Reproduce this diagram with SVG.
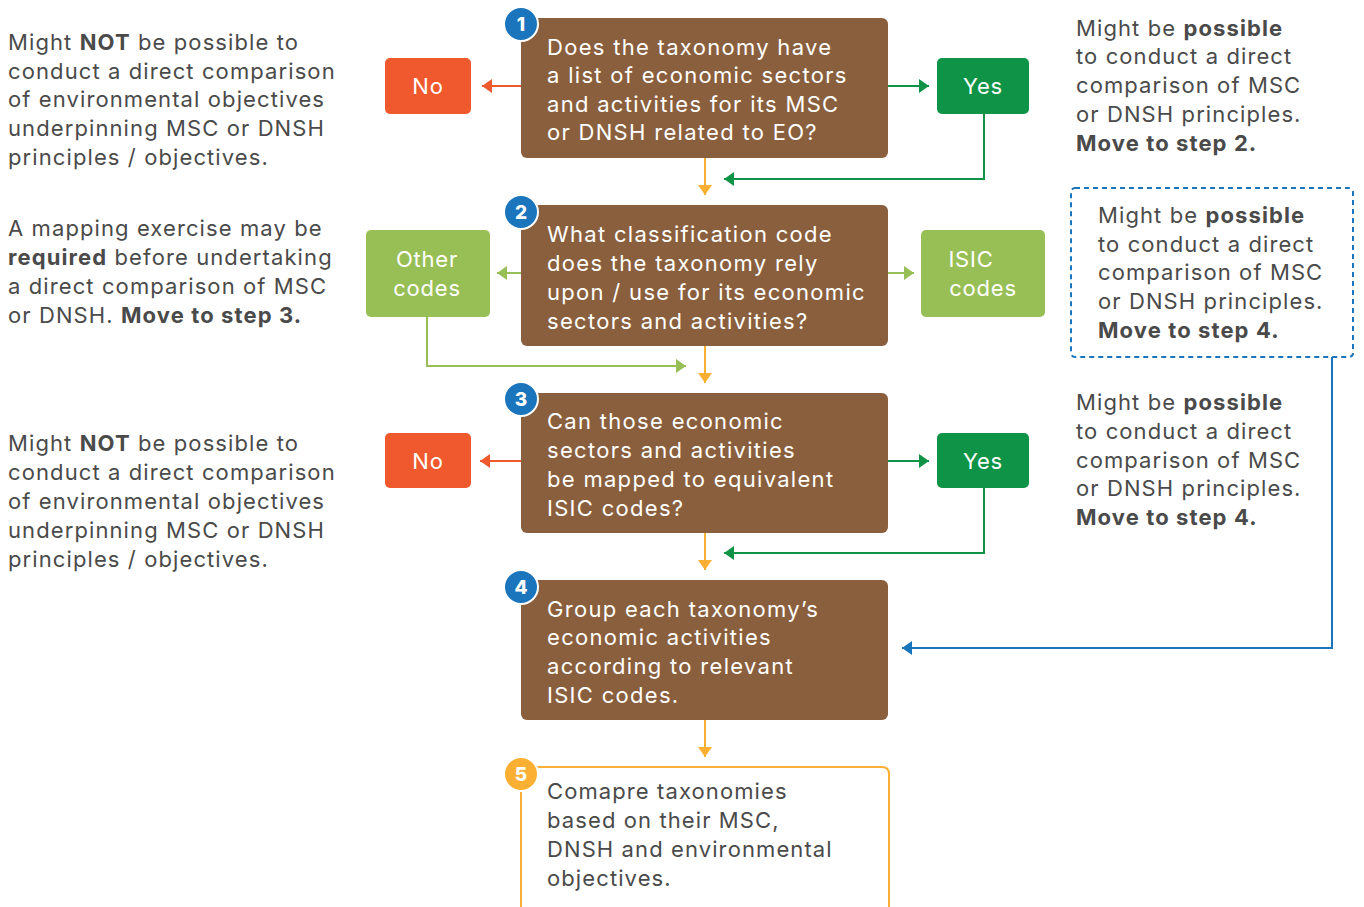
<svg xmlns="http://www.w3.org/2000/svg" width="1364" height="907" viewBox="0 0 1364 907">
<style>
  .t{font-family:Inter,"Noto Sans","Liberation Sans",sans-serif;font-size:22px;letter-spacing:1.1px;fill:#4a4a4a}
  .b{font-weight:700}
  .w{font-family:Inter,"Noto Sans","Liberation Sans",sans-serif;font-size:22px;letter-spacing:1.3px;fill:#ffffff}
  .lbl{font-family:Inter,"Noto Sans","Liberation Sans",sans-serif;font-size:22px;letter-spacing:0.8px;fill:#ffffff;text-anchor:middle}
  .num{font-family:Inter,"Noto Sans","Liberation Sans",sans-serif;font-size:19px;font-weight:800;fill:#ffffff;text-anchor:middle}
  .step{fill:#8a5f3e}
  .no{fill:#f0582d}
  .yes{fill:#0f9447}
  .lg{fill:#98bf55}
  .badge{fill:#1b75bc;stroke:#ffffff;stroke-width:2}
  .cy{stroke:#fbb034;stroke-width:2;fill:none}
  .co{stroke:#f0582d;stroke-width:2;fill:none}
  .cg{stroke:#0f9447;stroke-width:2;fill:none}
  .cl{stroke:#98bf55;stroke-width:2;fill:none}
  .cb{stroke:#1b75bc;stroke-width:2;fill:none}
</style>
<defs>
  <marker id="ay" viewBox="0 0 10 10" preserveAspectRatio="none" refX="10" refY="5" markerWidth="10" markerHeight="14" markerUnits="userSpaceOnUse" orient="auto"><path d="M0,0 L10,5 L0,10 z" fill="#fbb034"/></marker>
  <marker id="ao" viewBox="0 0 10 10" preserveAspectRatio="none" refX="10" refY="5" markerWidth="10" markerHeight="14" markerUnits="userSpaceOnUse" orient="auto"><path d="M0,0 L10,5 L0,10 z" fill="#f0582d"/></marker>
  <marker id="ag" viewBox="0 0 10 10" preserveAspectRatio="none" refX="10" refY="5" markerWidth="10" markerHeight="14" markerUnits="userSpaceOnUse" orient="auto"><path d="M0,0 L10,5 L0,10 z" fill="#0f9447"/></marker>
  <marker id="al" viewBox="0 0 10 10" preserveAspectRatio="none" refX="10" refY="5" markerWidth="10" markerHeight="14" markerUnits="userSpaceOnUse" orient="auto"><path d="M0,0 L10,5 L0,10 z" fill="#98bf55"/></marker>
  <marker id="ab" viewBox="0 0 10 10" preserveAspectRatio="none" refX="10" refY="5" markerWidth="10" markerHeight="14" markerUnits="userSpaceOnUse" orient="auto"><path d="M0,0 L10,5 L0,10 z" fill="#1b75bc"/></marker>
</defs>

<g id="connectors">
  <path class="cy" d="M705,158 V195" marker-end="url(#ay)"/>
  <path class="cy" d="M705,346 V383" marker-end="url(#ay)"/>
  <path class="cy" d="M705,533 V570" marker-end="url(#ay)"/>
  <path class="cy" d="M705,720 V757" marker-end="url(#ay)"/>
  <path class="co" d="M521,86 H482" marker-end="url(#ao)"/>
  <path class="cg" d="M888,86 H929" marker-end="url(#ag)"/>
  <path class="cg" d="M984,114 V179 H724" marker-end="url(#ag)"/>
  <path class="cl" d="M521,273 H497" marker-end="url(#al)"/>
  <path class="cl" d="M888,273 H914" marker-end="url(#al)"/>
  <path class="cl" d="M427,317 V366 H686" marker-end="url(#al)"/>
  <path class="co" d="M521,461 H480" marker-end="url(#ao)"/>
  <path class="cg" d="M888,461 H929" marker-end="url(#ag)"/>
  <path class="cg" d="M984,488 V553 H724" marker-end="url(#ag)"/>
  <path class="cb" d="M1332,357 V648 H902" marker-end="url(#ab)"/>
</g>

<g id="note-left-1">
  <text class="t" x="8" y="50">Might <tspan class="b">NOT</tspan> be possible to</text>
  <text class="t" x="8" y="79">conduct a direct comparison</text>
  <text class="t" x="8" y="107">of environmental objectives</text>
  <text class="t" x="8" y="136">underpinning MSC or DNSH</text>
  <text class="t" x="8" y="165">principles / objectives.</text>
</g>
<g id="note-left-2">
  <text class="t" x="8" y="236">A mapping exercise may be</text>
  <text class="t" x="8" y="265"><tspan class="b">required</tspan> before undertaking</text>
  <text class="t" x="8" y="294">a direct comparison of MSC</text>
  <text class="t" x="8" y="323">or DNSH. <tspan class="b">Move to step 3.</tspan></text>
</g>
<g id="note-left-3">
  <text class="t" x="8" y="451">Might <tspan class="b">NOT</tspan> be possible to</text>
  <text class="t" x="8" y="480">conduct a direct comparison</text>
  <text class="t" x="8" y="509">of environmental objectives</text>
  <text class="t" x="8" y="538">underpinning MSC or DNSH</text>
  <text class="t" x="8" y="567">principles / objectives.</text>
</g>
<g id="note-right-1">
  <text class="t" x="1076" y="36">Might be <tspan class="b">possible</tspan></text>
  <text class="t" x="1076" y="64">to conduct a direct</text>
  <text class="t" x="1076" y="93">comparison of MSC</text>
  <text class="t" x="1076" y="122">or DNSH principles.</text>
  <text class="t b" x="1076" y="151">Move to step 2.</text>
</g>
<g id="note-right-2">
  <rect x="1071" y="188" width="282" height="169" rx="4" fill="none" stroke="#1b75bc" stroke-width="2" stroke-dasharray="5,4"/>
  <text class="t" x="1098" y="223">Might be <tspan class="b">possible</tspan></text>
  <text class="t" x="1098" y="252">to conduct a direct</text>
  <text class="t" x="1098" y="280">comparison of MSC</text>
  <text class="t" x="1098" y="309">or DNSH principles.</text>
  <text class="t b" x="1098" y="338">Move to step 4.</text>
</g>
<g id="note-right-3">
  <text class="t" x="1076" y="410">Might be <tspan class="b">possible</tspan></text>
  <text class="t" x="1076" y="439">to conduct a direct</text>
  <text class="t" x="1076" y="468">comparison of MSC</text>
  <text class="t" x="1076" y="496">or DNSH principles.</text>
  <text class="t b" x="1076" y="525">Move to step 4.</text>
</g>

<g id="step1">
  <rect class="step" x="521" y="18" width="367" height="140" rx="6"/>
  <text class="w" x="547" y="55">Does the taxonomy have</text>
  <text class="w" x="547" y="83">a list of economic sectors</text>
  <text class="w" x="547" y="112">and activities for its MSC</text>
  <text class="w" x="547" y="140">or DNSH related to EO?</text>
  <circle class="badge" cx="521" cy="24" r="17"/>
  <text class="num" x="521" y="31">1</text>
</g>
<g id="no1"><rect class="no" x="385" y="58" width="86" height="56" rx="5"/><text class="lbl" x="428" y="94">No</text></g>
<g id="yes1"><rect class="yes" x="937" y="58" width="92" height="56" rx="5"/><text class="lbl" x="983" y="94">Yes</text></g>

<g id="step2">
  <rect class="step" x="521" y="205" width="367" height="141" rx="6"/>
  <text class="w" x="547" y="242">What classification code</text>
  <text class="w" x="547" y="271">does the taxonomy rely</text>
  <text class="w" x="547" y="300">upon / use for its economic</text>
  <text class="w" x="547" y="329">sectors and activities?</text>
  <circle class="badge" cx="521" cy="212" r="17"/>
  <text class="num" x="521" y="219">2</text>
</g>
<g id="other-codes"><rect class="lg" x="366" y="230" width="124" height="87" rx="5"/><text class="lbl" x="427" y="267">Other</text><text class="lbl" x="427" y="296">codes</text></g>
<g id="isic-codes"><rect class="lg" x="921" y="230" width="124" height="87" rx="5"/><text class="lbl" x="971" y="267">ISIC</text><text class="lbl" x="983" y="296">codes</text></g>

<g id="step3">
  <rect class="step" x="521" y="393" width="367" height="140" rx="6"/>
  <text class="w" x="547" y="429">Can those economic</text>
  <text class="w" x="547" y="458">sectors and activities</text>
  <text class="w" x="547" y="487">be mapped to equivalent</text>
  <text class="w" x="547" y="516">ISIC codes?</text>
  <circle class="badge" cx="521" cy="399" r="17"/>
  <text class="num" x="521" y="406">3</text>
</g>
<g id="no3"><rect class="no" x="385" y="433" width="86" height="55" rx="5"/><text class="lbl" x="428" y="469">No</text></g>
<g id="yes3"><rect class="yes" x="937" y="433" width="92" height="55" rx="5"/><text class="lbl" x="983" y="469">Yes</text></g>

<g id="step4">
  <rect class="step" x="521" y="580" width="367" height="140" rx="6"/>
  <text class="w" x="547" y="617">Group each taxonomy’s</text>
  <text class="w" x="547" y="645">economic activities</text>
  <text class="w" x="547" y="674">according to relevant</text>
  <text class="w" x="547" y="703">ISIC codes.</text>
  <circle class="badge" cx="521" cy="587" r="17"/>
  <text class="num" x="521" y="594">4</text>
</g>

<g id="step5">
  <path d="M521,920 V774 Q521,767 528,767 H882 Q889,767 889,774 V920" fill="#ffffff" stroke="#fbb034" stroke-width="2"/>
  <text class="t" x="547" y="799">Comapre taxonomies</text>
  <text class="t" x="547" y="828">based on their MSC,</text>
  <text class="t" x="547" y="857">DNSH and environmental</text>
  <text class="t" x="547" y="886">objectives.</text>
  <circle cx="521" cy="774" r="17" fill="#fbb034" stroke="#ffffff" stroke-width="2"/>
  <text class="num" x="521" y="781">5</text>
</g>
</svg>
